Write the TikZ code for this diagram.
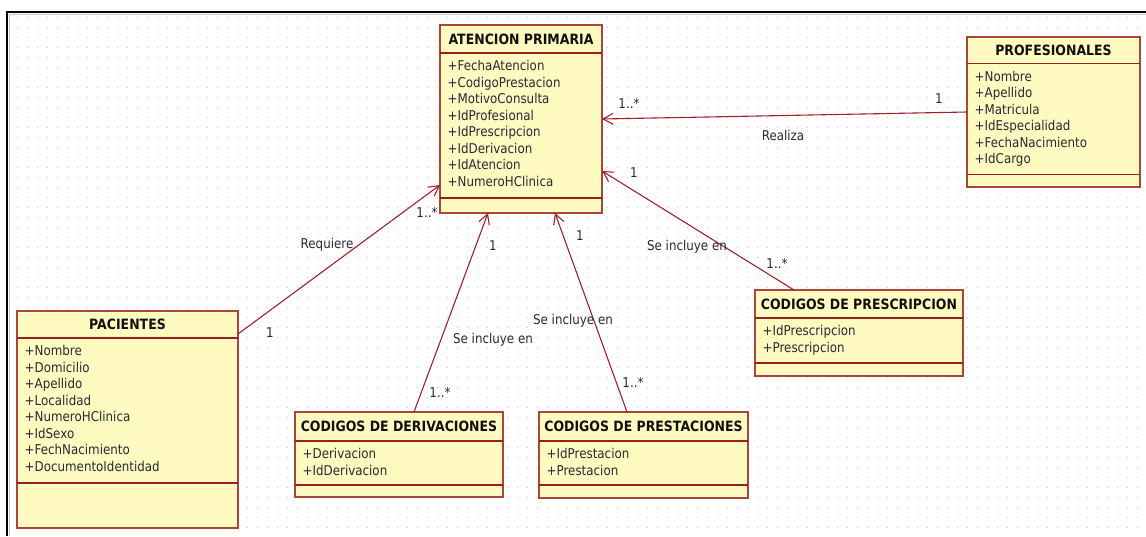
\documentclass[tikz,border=0pt]{standalone}
\usepackage{fontspec}
\setmainfont{DejaVu Sans}[FakeStretch=0.88]
\usetikzlibrary{arrows.meta,calc}

\definecolor{boxfill}{RGB}{255,251,192}
\definecolor{boxline}{RGB}{168,70,60}
\definecolor{sepcol}{RGB}{150,32,32}
\definecolor{linkcol}{RGB}{155,35,40}
\definecolor{titlecol}{RGB}{16,16,16}
\definecolor{attrcol}{RGB}{40,40,56}
\definecolor{dotcol}{RGB}{200,200,206}

\tikzset{
  classbox/.style={draw=boxline, fill=boxfill, line width=1.6pt, outer sep=0pt, inner sep=0pt},
  sepline/.style={draw=sepcol, line width=1.2pt},
  ctitle/.style={font=\bfseries\fontsize{14.2}{16}\selectfont, text=titlecol, inner sep=0pt},
  cattr/.style={font=\fontsize{13.5}{16}\selectfont, text=attrcol, anchor=west, inner sep=0pt,
                text height=9.8pt, text depth=2.8pt},
  assoc/.style={draw=linkcol, line width=1.1pt,
                -{Straight Barb[length=10pt,width=11pt,line width=1.1pt]}},
  lbl/.style={font=\fontsize{13.5}{16}\selectfont, text=attrcol, inner sep=0pt},
  gridrow/.style={draw=dotcol, line width=1pt, dash pattern=on 1pt off 9pt},
}

% #1 name, #2 left, #3 top, #4 right, #5 bottom, #6 title rule, #7 lower rule,
% #8 class title, #9 attribute list
\newcommand\umlclass[9]{%
  \node[classbox, minimum width={(#4-#2)*1pt}, minimum height={(#5-#3)*1pt}]
    (#1) at ({(#2+#4)/2},{(#3+#5)/2}) {};
  \draw[sepline] (#2,#6) -- (#4,#6);
  \draw[sepline] (#2,#7) -- (#4,#7);
  \node[ctitle] (#1-title) at ({(#2+#4)/2},{(#3+#6)/2}) {#8};
  \foreach \fld [count=\i] in {#9} {
    \node[cattr] (#1-attr\i) at ({#2+7.5},{#6+14+(\i-1)*16.5}) {+\fld};
  }%
}

\begin{document}
\begin{tikzpicture}[x=1pt, y=-1pt]
  \useasboundingbox (0,0) rectangle (1146,536);
  \fill[white] (0,0) rectangle (1146,536);

  % dotted canvas grid
  \foreach \gy in {17,27,...,527}
    \draw[gridrow] (16.5,\gy) -- (1146,\gy);

  % window frame
  \draw[gray!45, line width=1pt] (9.5,536) -- (9.5,14.5) -- (1146,14.5);
  \draw[black, line width=2pt] (7,536) -- (7,12) -- (1146,12);

  % classes
  \umlclass{aten}{440}{25}{602}{213}{53}{198}{ATENCION PRIMARIA}
    {FechaAtencion,CodigoPrestacion,MotivoConsulta,IdProfesional,IdPrescripcion,IdDerivacion,IdAtencion,NumeroHClinica}
  \umlclass{prof}{967}{37}{1140}{187}{63.5}{174.5}{PROFESIONALES}
    {Nombre,Apellido,Matricula,IdEspecialidad,FechaNacimiento,IdCargo}
  \umlclass{pac}{17}{311}{238}{528}{338}{483}{PACIENTES}
    {Nombre,Domicilio,Apellido,Localidad,NumeroHClinica,IdSexo,FechNacimiento,DocumentoIdentidad}
  \umlclass{der}{295}{412}{503}{497}{441}{485}{CODIGOS DE DERIVACIONES}
    {Derivacion,IdDerivacion}
  \umlclass{pre}{539}{412}{748}{498}{441}{485}{CODIGOS DE PRESTACIONES}
    {IdPrestacion,Prestacion}
  \umlclass{psc}{755}{290}{963}{376}{318}{363}{CODIGOS DE PRESCRIPCION}
    {IdPrescripcion,Prescripcion}

  % associations
  \draw[assoc] (prof.west) -- (aten.east);
  \draw[assoc] ($(pac.north east)+(0,23)$) -- ($(aten.south west)+(0,-28)$);
  \draw[assoc] ($(der.north west)+(119,0)$) -- ($(aten.south west)+(48,0)$);
  \draw[assoc] ($(pre.north west)+(88,0)$) -- ($(aten.south west)+(115,0)$);
  \draw[assoc] ($(psc.north west)+(39,0)$) -- ($(aten.south east)+(0,-42)$);

  % association names and multiplicities
  \node[lbl] (realiza)   at (783,135) {Realiza};
  \node[lbl] (realizaA)  at (629,103) {1..*};
  \node[lbl] (realizaB)  at (939,99)  {1};

  \node[lbl] (requiere)  at (327,245) {Requiere};
  \node[lbl] (requiereA) at (427,212) {1..*};
  \node[lbl] (requiereB) at (270,333) {1};

  \node[lbl] (derivN)    at (493,340) {Se incluye en};
  \node[lbl] (derivA)    at (493,246) {1};
  \node[lbl] (derivB)    at (440,392) {1..*};

  \node[lbl] (prestN)    at (573,321) {Se incluye en};
  \node[lbl] (prestA)    at (580,236) {1};
  \node[lbl] (prestB)    at (633,382) {1..*};

  \node[lbl] (prescN)    at (687,247) {Se incluye en};
  \node[lbl] (prescA)    at (634,173) {1};
  \node[lbl] (prescB)    at (777,263) {1..*};
\end{tikzpicture}
\end{document}
